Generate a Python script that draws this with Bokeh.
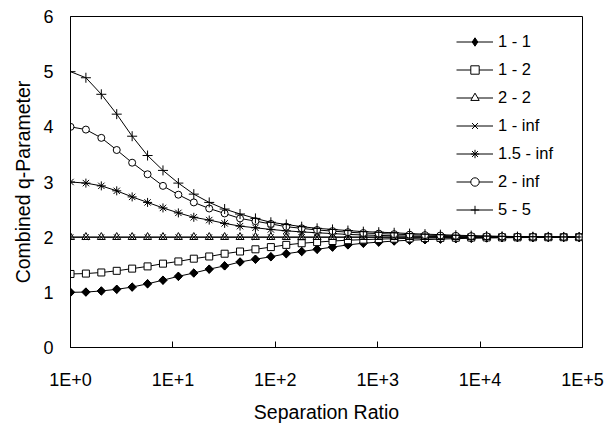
import math
from bokeh.plotting import figure
from bokeh.models import Range1d, FixedTicker, Legend, LegendItem
from bokeh.embed import file_html
from bokeh.resources import INLINE

# ---- data ----
ratio = [1, 1.414, 2, 2.828, 4, 5.657, 8, 11.31, 16, 22.63, 32, 45.25, 64, 90.51,
         128, 181.0, 256, 362.0, 512, 724.1, 1024, 1448, 2048, 2896, 4096, 5793,
         8192, 11585, 16384, 23170, 32768, 46341, 65536, 92682]

q_1_1 = [1.0, 1.005, 1.025, 1.055, 1.095, 1.155, 1.22, 1.29, 1.35, 1.42, 1.48, 1.55,
         1.60, 1.645, 1.70, 1.74, 1.78, 1.82, 1.86, 1.89, 1.91, 1.93, 1.945, 1.955,
         1.965, 1.973, 1.98, 1.985, 1.989, 1.992, 1.994, 1.996, 1.997, 1.998]
q_1_2 = [1.333, 1.34, 1.36, 1.39, 1.43, 1.47, 1.52, 1.56, 1.61, 1.65, 1.70, 1.74,
         1.78, 1.82, 1.86, 1.89, 1.91, 1.93, 1.945, 1.955, 1.965, 1.972, 1.978, 1.983,
         1.987, 1.99, 1.993, 1.995, 1.996, 1.997, 1.998, 1.999, 1.999, 2.0]
q_2_2 = [2.0] * 34
q_1_inf = [2.0] * 34
q_15_inf = [3.0, 2.98, 2.93, 2.84, 2.73, 2.63, 2.53, 2.44, 2.36, 2.31, 2.25, 2.20,
            2.17, 2.14, 2.115, 2.095, 2.08, 2.065, 2.05, 2.04, 2.032, 2.025, 2.02, 2.015,
            2.012, 2.009, 2.007, 2.005, 2.004, 2.003, 2.002, 2.001, 2.001, 2.0]
q_2_inf = [4.0, 3.95, 3.80, 3.58, 3.35, 3.14, 2.93, 2.77, 2.63, 2.52, 2.43, 2.34,
           2.29, 2.24, 2.19, 2.16, 2.13, 2.11, 2.09, 2.075, 2.065, 2.055, 2.045, 2.037,
           2.03, 2.024, 2.019, 2.015, 2.011, 2.008, 2.006, 2.004, 2.003, 2.002]
q_5_5 = [5.0, 4.89, 4.59, 4.23, 3.83, 3.48, 3.21, 2.98, 2.78, 2.63, 2.51, 2.42,
         2.34, 2.27, 2.23, 2.19, 2.16, 2.14, 2.12, 2.10, 2.09, 2.08, 2.065, 2.055,
         2.045, 2.035, 2.028, 2.02, 2.015, 2.011, 2.008, 2.006, 2.004, 2.003]

series_names = ["1 - 1", "1 - 2", "2 - 2", "1 - inf", "1.5 - inf", "2 - inf", "5 - 5"]
series_values = [q_1_1, q_1_2, q_2_2, q_1_inf, q_15_inf, q_2_inf, q_5_5]

x_tick_values = [1, 10, 100, 1000, 10000, 100000]
x_tick_labels = ["1E+0", "1E+1", "1E+2", "1E+3", "1E+4", "1E+5"]
y_tick_values = [0, 1, 2, 3, 4, 5, 6]

# ---- styles ----
marker_styles = [
    dict(marker="square", size=6, angle=math.pi / 4, fill_color="black", legend_marker="diamond"),
    dict(marker="square", size=7, fill_color="white"),
    dict(marker="triangle", size=8, fill_color="white"),
    dict(marker="x", size=8, fill_color="white"),
    dict(marker="asterisk", size=9, fill_color="white"),
    dict(marker="circle", size=7, fill_color="white"),
    dict(marker="cross", size=10, fill_color="white"),
]

FONT = "Liberation Sans"

p = figure(width=616, height=425, x_axis_type="log",
           x_range=Range1d(1, 100000), y_range=Range1d(0, 6),
           output_backend="svg", toolbar_location=None,
           min_border_left=70, min_border_right=34,
           min_border_top=16, min_border_bottom=77)

p.outline_line_color = "black"
p.outline_line_width = 1
p.xgrid.visible = False
p.ygrid.visible = False
p.background_fill_color = "white"
p.border_fill_color = "white"

items = []
for name, vals, st in zip(series_names, series_values, marker_styles):
    ln = p.line(ratio, vals, line_color="black", line_width=1)
    leg_r = []
    if "legend_marker" in st:
        # hidden beneath the rotated squares; gives the legend a diamond glyph
        leg_r.append(p.scatter(ratio, vals, marker=st["legend_marker"], size=8,
                               fill_color="black", line_color="black", line_width=1))
    sc = p.scatter(ratio, vals, marker=st["marker"], size=st["size"],
                   angle=st.get("angle", 0), fill_color=st["fill_color"],
                   line_color="black", line_width=1)
    items.append(LegendItem(label=name, renderers=[ln] + (leg_r if leg_r else [sc])))

legend = Legend(items=items, location=(386, 127), padding=0, margin=0,
                spacing=7, glyph_width=37, glyph_height=21, label_height=21,
                label_standoff=5, label_text_font=FONT,
                label_text_font_size="16.5px", label_text_color="black",
                border_line_alpha=0, background_fill_alpha=0)
p.add_layout(legend)

# x axis
xa = p.xaxis[0]
xa.ticker = FixedTicker(ticks=x_tick_values, minor_ticks=[])
xa.major_label_overrides = {v: l for v, l in zip(x_tick_values, x_tick_labels)}
xa.major_tick_in = 6
xa.major_tick_out = 0
xa.minor_tick_line_color = None
xa.major_label_standoff = 22
xa.axis_label = "Separation Ratio"
xa.axis_label_standoff = 8

# y axis
ya = p.yaxis[0]
ya.ticker = FixedTicker(ticks=y_tick_values, minor_ticks=[])
ya.major_tick_in = 0
ya.major_tick_out = 0
ya.minor_tick_line_color = None
ya.major_label_standoff = 17
ya.axis_label = "Combined q-Parameter"
ya.axis_label_standoff = 6

for ax in (xa, ya):
    ax.axis_line_color = "black"
    ax.axis_line_width = 1
    ax.major_tick_line_color = "black"
    ax.major_label_text_font = FONT
    ax.major_label_text_font_size = "18px"
    ax.major_label_text_color = "black"
    ax.axis_label_text_font = FONT
    ax.axis_label_text_font_size = "19.5px"
    ax.axis_label_text_font_style = "normal"
    ax.axis_label_text_color = "black"

open("out.html", "w").write(file_html(p, INLINE))
